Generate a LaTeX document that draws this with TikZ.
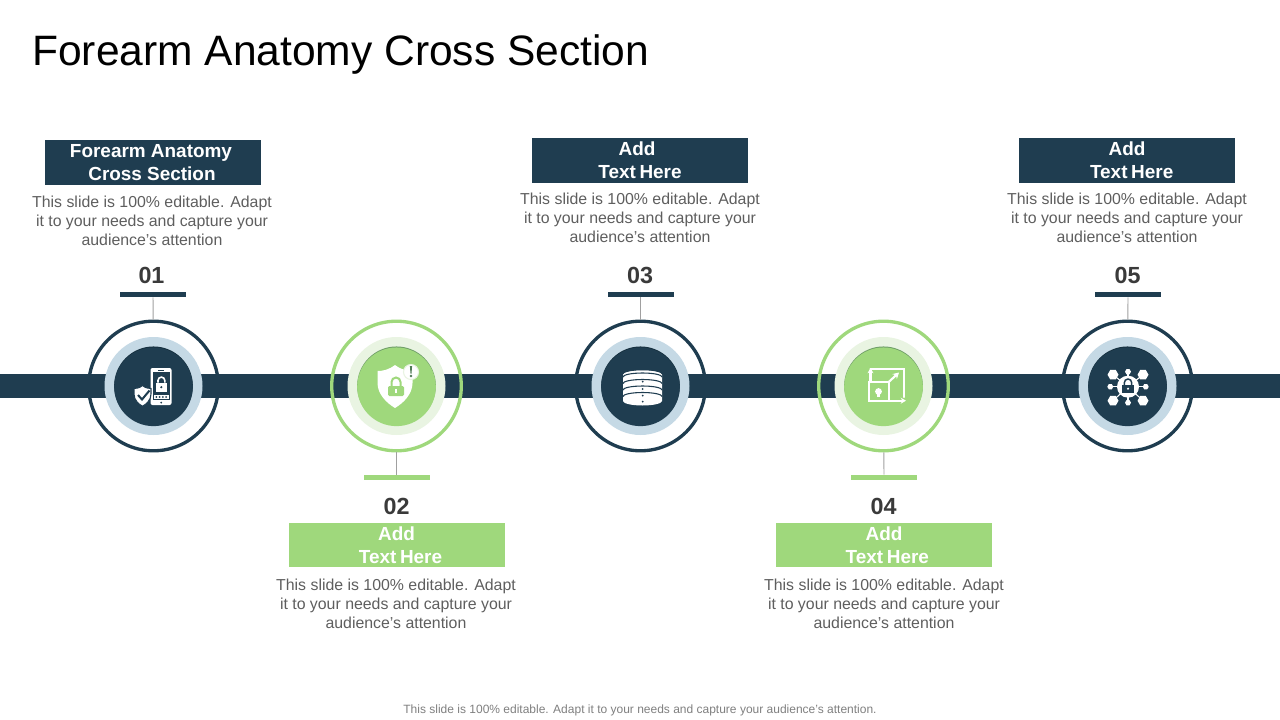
\documentclass[tikz,border=0pt]{standalone}
\usepackage{fontspec}
\setmainfont{Liberation Sans}
\usetikzlibrary{arrows.meta}
\definecolor{navy}{HTML}{1F3D50}
\definecolor{navyshade}{HTML}{16303F}
\definecolor{leaf}{HTML}{9FD87C}
\definecolor{leafshade}{HTML}{6F9E68}
\definecolor{leafmark}{HTML}{4F7A55}
\definecolor{paleblue}{HTML}{C5D9E5}
\definecolor{paleleaf}{HTML}{E9F4E2}
\definecolor{bodygrey}{HTML}{5E5E5E}
\definecolor{numgrey}{HTML}{3A3A3A}
\definecolor{footgrey}{HTML}{7F7F7F}
\definecolor{leadgrey}{HTML}{A0A0A0}
\tikzset{
  ringnode/.style={circle,draw=#1,line width=2.5pt,minimum size=97.2pt,inner sep=0pt,fill=none},
  haloring/.style={circle,fill=#1,minimum size=73.5pt,inner sep=0pt},
  disc/.style={circle,fill=#1,minimum size=59pt,inner sep=0pt},
  tickbar/.style={rectangle,fill=#1,minimum width=49.5pt,minimum height=4pt,inner sep=0pt},
  lead/.style={draw=leadgrey,line width=.7pt},
  headbox/.style={rectangle,fill=#1,text=white,minimum width=162pt,minimum height=33.5pt,inner sep=0pt,
    align=center,font=\fontsize{14.2pt}{17.25pt}\selectfont\bfseries},
  bodytext/.style={text=bodygrey,align=center,inner sep=0pt,font=\fontsize{11.9pt}{14.25pt}\selectfont},
  numtext/.style={text=numgrey,inner sep=0pt,font=\fontsize{17.5pt}{20pt}\selectfont\bfseries},
  iconline/.style={draw=white,line width=1.6pt},
}
\newcommand{\slidetext}{This slide is 100\% editable. Adapt\\it to your needs and capture your\\audience{\char39}s attention}
\newcommand{\addtext}[2]{\hspace*{#1}Add\\\hspace*{#2}Text\hspace{-1.2pt} Here}
\begin{document}
\begin{tikzpicture}[x=.75pt,y=-.75pt]
\useasboundingbox (0,0) rectangle (1280,720);
\node[anchor=west,inner sep=0pt,font=\fontsize{31.9pt}{36pt}\selectfont] (title) at (32,54.5) {Forearm Anatomy Cross Section};
% band
\fill[navy] (0,374) rectangle (1280,398);
% circles
\foreach \n/\x/\c/\h/\d/\s in {1/153.5/navy/paleblue/navy/navyshade,2/396.5/leaf/paleleaf/leaf/leafshade,3/640.5/navy/paleblue/navy/navyshade,4/883.5/leaf/paleleaf/leaf/leafshade,5/1127.5/navy/paleblue/navy/navyshade}{
  \node[ringnode=\c] (ring\n) at (\x,386) {};
  \node[haloring=\h] (halo\n) at (\x,386) {};
  \node[disc=\s] (shade\n) at (\x,385.8) {};
  \node[disc=\d] (disc\n) at (\x,386.8) {};
}
% tick bars and leads
\node[tickbar=navy] (tick1) at (153,294.5) {};
\node[tickbar=leaf] (tick2) at (396.5,477.5) {};
\node[tickbar=navy] (tick3) at (640.5,294.5) {};
\node[tickbar=leaf] (tick4) at (884,477.5) {};
\node[tickbar=navy] (tick5) at (1128,294.5) {};
\foreach \n in {1,...,5}{\draw[lead] (tick\n) -- (ring\n);}
% numbers
\node[numtext] (num1) at (151.5,275) {01};
\node[numtext] (num2) at (396.5,506) {02};
\node[numtext] (num3) at (640,275) {03};
\node[numtext] (num4) at (883.5,506) {04};
\node[numtext] (num5) at (1127.5,275) {05};
% heading boxes
\node[headbox=navy] (box1) at (153,162.5) {\hspace*{-3pt}Forearm Anatomy\\\hspace*{-1.5pt}Cross Section};
\node[headbox=leaf] (box2) at (396.5,545) {\addtext{0pt}{6pt}};
\node[headbox=navy] (box3) at (640,160.5) {\addtext{-4.5pt}{0pt}};
\node[headbox=leaf] (box4) at (884,545) {\addtext{0pt}{5pt}};
\node[headbox=navy] (box5) at (1127,160.5) {\addtext{0pt}{7pt}};
% body text
\node[bodytext] (body1) at (152,220.7) {\slidetext};
\node[bodytext] (body2) at (396,603.7) {\slidetext};
\node[bodytext] (body3) at (640,217.7) {\slidetext};
\node[bodytext] (body4) at (884,603.7) {\slidetext};
\node[bodytext] (body5) at (1127,217.7) {\slidetext};
\node[text=footgrey,inner sep=0pt,font=\fontsize{9pt}{11pt}\selectfont] (foot) at (640,710.7) {This slide is 100\% editable. Adapt it to your needs and capture your audience{\char39}s attention.};
% icon 1: phone and shield
\begin{scope}[shift={(153.5,386)}]
  \fill[white,rounded corners=1.5pt] (-3,-18) rectangle (18,19);
  \fill[navy] (-1,-14.3) rectangle (16,14);
  \draw[navy,line width=.6pt] (4.5,-16) -- (10.5,-16);
  \fill[navy] (7.7,16.7) circle (1);
  \fill[white] (2,-3.3) rectangle (13.7,5.7);
  \draw[white,line width=1.2pt] (4.5,-3.3) -- (4.5,-5.5) arc[start angle=180,end angle=360,radius=3.4] -- (11.3,-3.3);
  \fill[navy] (7.8,1.2) circle (1.2);
  \fill[white] (.3,9) rectangle (15.3,13);
  \foreach \q in {2.8,6.1,9.4,12.7}{\fill[navy] (\q,11) circle (1);}
  \fill[white,draw=navy,line width=.8pt] (-11,-.5) .. controls (-14,2) and (-17,2.5) .. (-19.5,2.5) -- (-19.5,8) .. controls (-19.5,14) and (-15,18) .. (-11,20.3) .. controls (-7,18) and (-2.5,14) .. (-2.5,8) -- (-2.5,2.5) .. controls (-5,2.5) and (-8,2) .. (-11,-.5) -- cycle;
  \draw[navy,line width=1.5pt] (-15.5,9) -- (-11.5,13.5) -- (-4,4.5);
\end{scope}
% icon 2: shield with lock and alert
\begin{scope}[shift={(396.5,386)}]
  \fill[white] (-1.5,-21) .. controls (-8,-16) and (-14,-15) .. (-19,-15) -- (-19,-3) .. controls (-19,8) and (-10,17) .. (-1.5,22) .. controls (7,17) and (16,8) .. (16,-3) -- (16,-15) .. controls (11,-15) and (5,-16) .. (-1.5,-21) -- cycle;
  \fill[leaf,rounded corners=1pt] (-8.5,0) rectangle (7.5,10);
  \draw[leaf,line width=1.5pt] (-5,0) -- (-5,-4) arc[start angle=180,end angle=360,radius=4.5] -- (4,0);
  \fill[white] (-1.2,2.5) rectangle (.2,7);
  \fill[white,draw=paleleaf,line width=.8pt] (14.5,-14) circle (7.5);
  \fill[leafmark] (13.4,-20) -- (15.6,-20) -- (15,-12.5) -- (14,-12.5) -- cycle;
  \fill[leafmark] (14.5,-10) circle (1.3);
\end{scope}
% icon 3: database
\begin{scope}[shift={(640,386)}]
  \fill[white] (-17,-11) arc[x radius=19.5,y radius=4.5,start angle=180,end angle=360] -- (22,15) arc[x radius=19.5,y radius=4.5,start angle=0,end angle=180] -- cycle;
  \fill[white] (2.5,-11) ellipse [x radius=19.5,y radius=4.5];
  \foreach \q in {-9,-2.5,4,10.5}{
    \draw[navy,line width=.8pt] (-17,\q) arc[x radius=19.5,y radius=4,start angle=180,end angle=360];
  }
  \foreach \q in {-4.3,3,9.7,15.7}{\fill[navy] (2.7,\q) circle (1);}
\end{scope}
% icon 4: scaling square
\begin{scope}[shift={(883.5,386)},line cap=round]
  \draw[iconline,-{Stealth[length=4pt,width=4.5pt]}] (-13,-4) -- (-13,-18);
  \draw[iconline] (-13,-17) -- (20.5,-17) -- (20.5,11);
  \draw[iconline] (-14.5,-4.3) rectangle (5.5,14.7);
  \draw[iconline,-{Stealth[length=4pt,width=4.5pt]}] (5.5,14.7) -- (22.5,14.7);
  \draw[iconline,-{Stealth[length=4.5pt,width=5pt]}] (5.5,-4.3) -- (15.5,-13.5);
  \fill[white] (-5,5.5) circle (3.4);
  \fill[white] (-6.5,8) rectangle (-3.5,11);
\end{scope}
% icon 5: network with lock
\begin{scope}[shift={(1128,386.7)}]
  \foreach \a/\b in {-15/-12,15/-12,-15/14,15/14,0/-15,0/16,-17.7/0,17.7/0}{\draw[white,line width=.8pt] (0,0) -- (\a,\b);}
  \foreach \a/\b in {-15/-12,15/-12,-15/14,15/14}{
    \fill[white,shift={(\a,\b)}] (0:5.5) -- (60:5.5) -- (120:5.5) -- (180:5.5) -- (240:5.5) -- (300:5.5) -- cycle;
  }
  \foreach \a/\b in {0/-15,0/16,-17.7/0,17.7/0}{
    \fill[white,shift={(\a,\b)}] (0:3) -- (60:3) -- (120:3) -- (180:3) -- (240:3) -- (300:3) -- cycle;
  }
  \fill[white] (0,0) circle (11);
  \fill[navy] (-6,-1.7) rectangle (6,6);
  \draw[navy,line width=1.1pt] (-3.7,-1.7) -- (-3.7,-4) arc[start angle=180,end angle=360,radius=3.7] -- (3.7,-1.7);
  \fill[white] (0,2) circle (1.2);
\end{scope}
\end{tikzpicture}
\end{document}
